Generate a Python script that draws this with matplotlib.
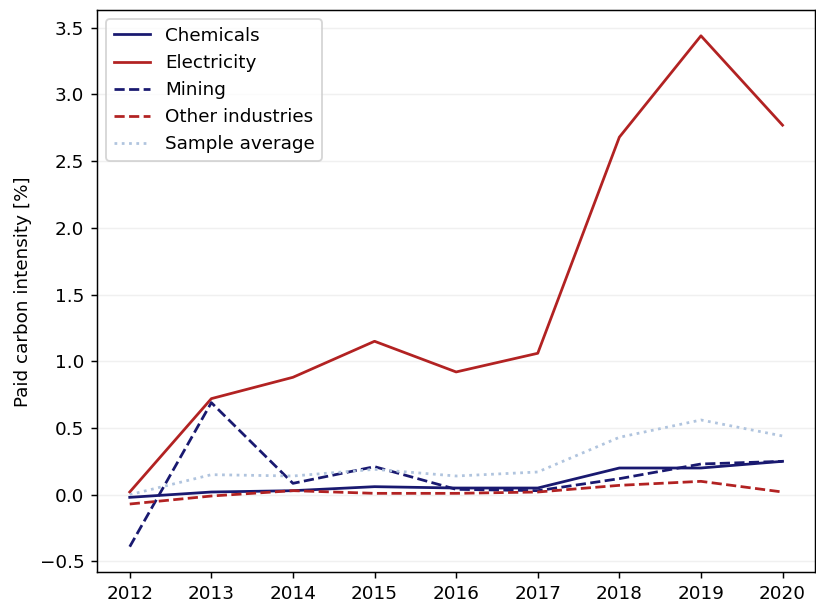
import matplotlib
matplotlib.use("Agg")
import matplotlib.pyplot as plt

years = [2012, 2013, 2014, 2015, 2016, 2017, 2018, 2019, 2020]
chemicals = [-0.02, 0.02, 0.03, 0.06, 0.05, 0.05, 0.20, 0.20, 0.25]
electricity = [0.02, 0.72, 0.88, 1.15, 0.92, 1.06, 2.68, 3.44, 2.77]
mining = [-0.39, 0.69, 0.085, 0.21, 0.04, 0.03, 0.12, 0.23, 0.25]
other = [-0.07, -0.01, 0.03, 0.01, 0.01, 0.02, 0.07, 0.10, 0.02]
sample_avg = [0.0, 0.15, 0.14, 0.19, 0.14, 0.17, 0.43, 0.56, 0.44]

DPI = 132
fig = plt.figure(figsize=(816 / DPI, 603 / DPI), dpi=DPI)
ax = fig.add_axes([0.119, 0.051, 0.880, 0.932])

navy = "#191970"
red = "#B22222"
light = "#B0C4DE"

ax.plot(years, chemicals, color=navy, linestyle="-", label="Chemicals")
ax.plot(years, electricity, color=red, linestyle="-", label="Electricity")
ax.plot(years, mining, color=navy, linestyle="--", label="Mining")
ax.plot(years, other, color=red, linestyle="--", label="Other industries")
ax.plot(years, sample_avg, color=light, linestyle=":", label="Sample average")

ax.yaxis.grid(True, color="#f0f0f0", linewidth=0.8)
ax.set_axisbelow(True)
ax.set_xticks(years)
ax.set_ylabel("Paid carbon intensity [%]")
ax.legend(loc="upper left")

fig.savefig("out.png", dpi=DPI)
